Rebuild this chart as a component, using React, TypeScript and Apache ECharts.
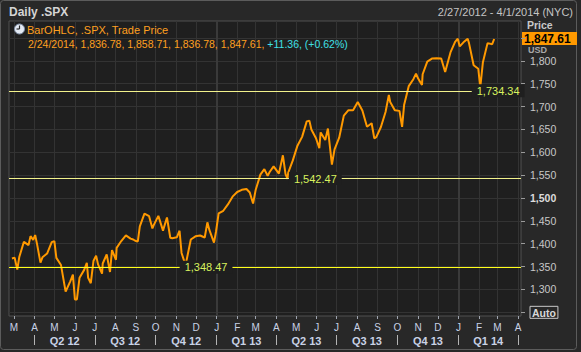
import React, { useEffect, useRef } from 'react';
import * as echarts from 'echarts';

const FONT = '"Liberation Sans", Arial, sans-serif';

// ---- data (daily .SPX, closes) ----
const priceDates = [
  '2012-02-27','2012-03-02','2012-03-06','2012-03-09','2012-03-16','2012-03-23','2012-03-26','2012-03-30',
  '2012-04-02','2012-04-05','2012-04-10','2012-04-13','2012-04-20','2012-04-27','2012-05-01','2012-05-04',
  '2012-05-11','2012-05-18','2012-05-25','2012-05-29','2012-06-01','2012-06-04','2012-06-08','2012-06-15',
  '2012-06-19','2012-06-21','2012-06-25','2012-06-29','2012-07-03','2012-07-06','2012-07-12','2012-07-13',
  '2012-07-19','2012-07-24','2012-07-27','2012-08-02','2012-08-03','2012-08-10','2012-08-17','2012-08-24',
  '2012-08-28','2012-08-31','2012-09-04','2012-09-07','2012-09-14','2012-09-21','2012-09-26','2012-09-28',
  '2012-10-05','2012-10-12','2012-10-18','2012-10-23','2012-10-26','2012-11-02','2012-11-06','2012-11-09',
  '2012-11-15','2012-11-16','2012-11-23','2012-11-30','2012-12-07','2012-12-14','2012-12-18','2012-12-21',
  '2012-12-28','2012-12-31','2013-01-04','2013-01-11','2013-01-18','2013-01-25','2013-02-01','2013-02-08',
  '2013-02-15','2013-02-20','2013-02-25','2013-03-01','2013-03-08','2013-03-14','2013-03-19','2013-03-22',
  '2013-03-28','2013-04-05','2013-04-11','2013-04-15','2013-04-18','2013-04-19','2013-04-26','2013-05-03',
  '2013-05-10','2013-05-17','2013-05-21','2013-05-24','2013-05-31','2013-06-05','2013-06-07','2013-06-14',
  '2013-06-18','2013-06-24','2013-06-28','2013-07-05','2013-07-12','2013-07-19','2013-07-26','2013-08-02',
  '2013-08-09','2013-08-16','2013-08-23','2013-08-27','2013-08-30','2013-09-06','2013-09-13','2013-09-18',
  '2013-09-20','2013-09-27','2013-10-04','2013-10-08','2013-10-11','2013-10-18','2013-10-25','2013-10-29',
  '2013-11-01','2013-11-07','2013-11-08','2013-11-15','2013-11-22','2013-11-29','2013-12-06','2013-12-12',
  '2013-12-13','2013-12-20','2013-12-27','2013-12-31','2014-01-03','2014-01-10','2014-01-15','2014-01-17',
  '2014-01-24','2014-01-31','2014-02-03','2014-02-07','2014-02-14','2014-02-21','2014-02-24',
];
const priceCloses = [
  1367.59,1369.63,1343.36,1370.87,1404.17,1397.11,1416.51,1408.47,
  1419.04,1398.08,1358.59,1370.26,1378.53,1403.36,1405.82,1369.10,
  1353.39,1295.22,1317.82,1332.42,1278.04,1278.18,1325.66,1342.84,
  1357.98,1325.51,1313.72,1362.16,1374.02,1354.68,1334.76,1356.78,
  1376.51,1338.31,1385.97,1365.00,1390.99,1405.87,1418.16,1411.13,
  1409.30,1406.58,1404.94,1437.92,1465.77,1460.15,1433.32,1440.67,
  1460.93,1428.59,1457.34,1413.11,1411.94,1414.20,1428.39,1379.85,
  1353.33,1359.88,1409.15,1416.18,1418.07,1413.58,1446.79,1430.15,
  1402.43,1426.19,1466.47,1472.05,1485.98,1502.96,1513.17,1517.93,
  1519.79,1511.95,1487.85,1518.20,1551.18,1563.23,1548.34,1556.89,
  1569.19,1553.28,1593.37,1552.36,1541.61,1555.25,1582.24,1614.42,
  1633.70,1667.47,1669.16,1649.60,1630.74,1608.90,1643.38,1626.73,
  1651.81,1573.09,1606.28,1631.89,1680.19,1692.09,1691.65,1709.67,
  1691.42,1655.83,1663.50,1630.48,1632.97,1655.17,1687.99,1725.52,
  1709.91,1691.75,1690.50,1655.45,1703.20,1744.50,1759.77,1771.95,
  1761.64,1747.15,1770.61,1798.18,1804.76,1805.81,1805.09,1775.50,
  1775.32,1818.32,1841.40,1848.36,1831.37,1842.37,1848.38,1838.70,
  1790.29,1782.59,1741.89,1797.02,1838.63,1836.25,1847.61,
];

const monthTickDates = [
  '2012-03-01','2012-04-01','2012-05-01','2012-06-01','2012-07-01','2012-08-01','2012-09-01','2012-10-01',
  '2012-11-01','2012-12-01','2013-01-01','2013-02-01','2013-03-01','2013-04-01','2013-05-01','2013-06-01',
  '2013-07-01','2013-08-01','2013-09-01','2013-10-01','2013-11-01','2013-12-01','2014-01-01','2014-02-01',
  '2014-03-01','2014-04-01',
];
const monthLabels = ['M','A','M','J','J','A','S','O','N','D','J','F','M','A','M','J','J','A','S','O','N','D','J','F','M','A'];
const quarterStartDates = ['2012-04-01','2012-07-01','2012-10-01','2013-01-01','2013-04-01','2013-07-01','2013-10-01','2014-01-01','2014-04-01'];
const quarterLabels = ['Q2 12','Q3 12','Q4 12','Q1 13','Q2 13','Q3 13','Q4 13','Q1 14'];
const yearStartDates = ['2013-01-01','2014-01-01'];
const yTickValues = [1250,1300,1350,1400,1450,1500,1550,1600,1650,1700,1750,1800,1850];
const yLabelValues = [1250,1300,1350,1400,1450,1500,1550,1600,1650,1700,1750,1800];
const levelValues = [1348.47, 1542.47, 1734.34];
const levelLabelDates = ['2012-12-16', '2013-05-30', '2014-03-02'];
const levelColors = ['#ffff1a', '#f2f28c', '#f2f28c'];
const lastPrice = 1847.61;
const legendQuote = '2/24/2014, 1,836.78, 1,858.71, 1,836.78, 1,847.61, ';
const legendChange = '+11.36, (+0.62%)';

const ts = (s: string) => { const [y, m, d] = s.split('-').map(Number); return Date.UTC(y, m - 1, d); };
const X_MIN = ts('2012-02-22') + 12 * 3600e3;
const X_MAX = ts('2014-04-05') + 12 * 3600e3;
const fmt2 = (v: number) => v.toLocaleString('en-US', { minimumFractionDigits: 2, maximumFractionDigits: 2 });
const fmt0 = (v: number) => v.toLocaleString('en-US');

const monthTs = monthTickDates.map(ts);
const quarterTs = quarterStartDates.map(ts);
const quarterMidTs = quarterLabels.map((_, i) => (quarterTs[i] + quarterTs[i + 1]) / 2);
const yearTs = yearStartDates.map(ts);

const nearestIdx = (arr: number[], v: number) => {
  let best = 0;
  for (let i = 1; i < arr.length; i++) if (Math.abs(arr[i] - v) < Math.abs(arr[best] - v)) best = i;
  return best;
};

export default function App() {
  const ref = useRef<HTMLDivElement>(null);
  useEffect(() => {
    if (!ref.current) return;
    const chart = echarts.init(ref.current, undefined, { renderer: 'svg' });
    const axisCommon = { type: 'value', min: X_MIN, max: X_MAX, position: 'bottom' };
    chart.setOption({
      animation: false,
      backgroundColor: '#282828',
      textStyle: { fontFamily: FONT },
      grid: { left: 9, top: 21, right: 60, bottom: 36, show: true, backgroundColor: '#1f1f1f', borderColor: '#505050', borderWidth: 1 },
      xAxis: [
        {
          ...axisCommon,
          axisLine: { show: false },
          axisTick: { show: true, customValues: monthTs, length: 3, lineStyle: { color: '#a0a6b0' } },
          axisLabel: {
            customValues: monthTs, color: '#c8d2e6', fontSize: 10, margin: 6, fontFamily: FONT,
            formatter: (v: number) => monthLabels[nearestIdx(monthTs, v)],
          },
          splitLine: { show: true, lineStyle: { color: '#333333', width: 1 } },
        },
        {
          ...axisCommon,
          offset: 19,
          axisLine: { show: false },
          axisTick: { show: true, customValues: quarterTs, length: 10, lineStyle: { color: '#b4b4b4' } },
          axisLabel: {
            customValues: quarterMidTs, color: '#c8d2e6', fontSize: 11, fontWeight: 'bold', margin: 0, fontFamily: FONT,
            formatter: (v: number) => quarterLabels[nearestIdx(quarterMidTs, v)],
          },
          splitLine: { show: false },
        },
        {
          ...axisCommon,
          axisLine: { show: false },
          axisTick: { show: false, customValues: yearTs },
          axisLabel: { show: false },
          splitLine: { show: true, lineStyle: { color: '#3a3a3a', width: 2 } },
        },
      ],
      yAxis: {
        type: 'value', position: 'right', min: 1242, max: 1887,
        axisLine: { show: false },
        axisTick: { show: true, customValues: yTickValues, length: 4, lineStyle: { color: '#9a9a9a' } },
        axisLabel: {
          customValues: yLabelValues, margin: 9, color: '#c8c8c8', fontSize: 10.5, fontFamily: FONT,
          formatter: (v: number) => (v === 1250 ? '{auto|Auto}' : v === 1500 ? '{b|1,500}' : fmt0(v)),
          rich: {
            auto: { fontWeight: 'bold', color: '#d8d8d8', fontSize: 10.5, borderColor: '#c8c8c8', borderWidth: 1, padding: [1, 2, 0, 2], fontFamily: FONT },
            b: { fontWeight: 'bold', color: '#dcdcdc', fontSize: 10.5, fontFamily: FONT },
          },
        },
        splitLine: { show: true, lineStyle: { color: '#333333', width: 1 } },
      },
      series: [
        {
          type: 'line',
          xAxisIndex: 0,
          yAxisIndex: 0,
          data: priceDates.map((d, i) => [ts(d), priceCloses[i]]),
          showSymbol: false,
          symbol: 'none',
          lineStyle: { color: '#ff9900', width: 2 },
          markLine: {
            silent: true,
            symbol: 'none',
            label: { show: false },
            data: levelValues.map((v, i) => ({ yAxis: v, lineStyle: { color: levelColors[i], width: 1, type: 'solid' } })),
          },
          markPoint: {
            silent: true,
            symbol: 'circle',
            symbolSize: 0,
            data: levelValues.map((v, i) => ({ coord: [ts(levelLabelDates[i]), v], value: v })),
            label: {
              show: true, position: 'inside', color: '#d9f25e', fontSize: 11, fontFamily: FONT,
              backgroundColor: '#1f1f1f', padding: [1, 5],
              formatter: (p: any) => fmt2(p.value),
            },
          },
        },
      ],
    });

    const py = chart.convertToPixel({ yAxisIndex: 0 }, lastPrice) as number;
    chart.setOption({
      graphic: [
        { type: 'rect', silent: true, shape: { x: 0.5, y: 0.5, width: 576, height: 349, r: 3 }, style: { fill: 'none', stroke: '#5c5c5c', lineWidth: 1 } },
        { type: 'text', left: 9, top: 6, style: { text: 'Daily .SPX', fill: '#d4d4d4', font: `bold 12px ${FONT}` } },
        { type: 'text', right: 8, top: 6, style: { text: '2/27/2012 - 4/1/2014 (NYC)', fill: '#c4c4c4', font: `11px ${FONT}` } },
        { type: 'circle', silent: true, shape: { cx: 19.5, cy: 29, r: 5 }, style: { fill: '#e4eaf4', stroke: '#7f8ea6', lineWidth: 1 } },
        { type: 'line', silent: true, shape: { x1: 19.5, y1: 29, x2: 19.5, y2: 25.5 }, style: { stroke: '#2a2a2a', lineWidth: 1.2 } },
        { type: 'line', silent: true, shape: { x1: 19.5, y1: 29, x2: 16.5, y2: 29 }, style: { stroke: '#2a2a2a', lineWidth: 1.2 } },
        { type: 'text', x: 27, y: 30, style: { text: 'BarOHLC, .SPX, Trade Price', fill: '#ffa020', font: `11px ${FONT}`, verticalAlign: 'middle' } },
        {
          type: 'text', x: 28, y: 44,
          style: {
            text: `{o|${legendQuote}}{c|${legendChange}}`,
            verticalAlign: 'middle',
            font: `10.5px ${FONT}`,
            rich: {
              o: { fill: '#ffa020', font: `10.5px ${FONT}` },
              c: { fill: '#3fe0e6', font: `10.5px ${FONT}` },
            },
          },
        },
        { type: 'text', x: 527, y: 25, style: { text: 'Price', fill: '#c8c8c8', font: `bold 10.5px ${FONT}`, verticalAlign: 'middle' } },
        { type: 'text', x: 528, y: py + 11, style: { text: 'USD', fill: '#a8a8a8', font: `bold 9px ${FONT}`, verticalAlign: 'middle' } },
        { type: 'rect', silent: true, shape: { x: 522, y: py - 7, width: 55, height: 13 }, style: { fill: '#ff9900' } },
        { type: 'text', x: 524, y: py - 0.5, style: { text: fmt2(lastPrice), fill: '#000000', font: `bold 12px ${FONT}`, verticalAlign: 'middle' } },
      ],
    });
    return () => chart.dispose();
  }, []);
  return (
    <div style={{ position: 'fixed', left: 0, top: 0, width: 581, height: 352, background: '#1b1b1b' }}>
      <div ref={ref} style={{ width: 581, height: 352 }} />
    </div>
  );
}
